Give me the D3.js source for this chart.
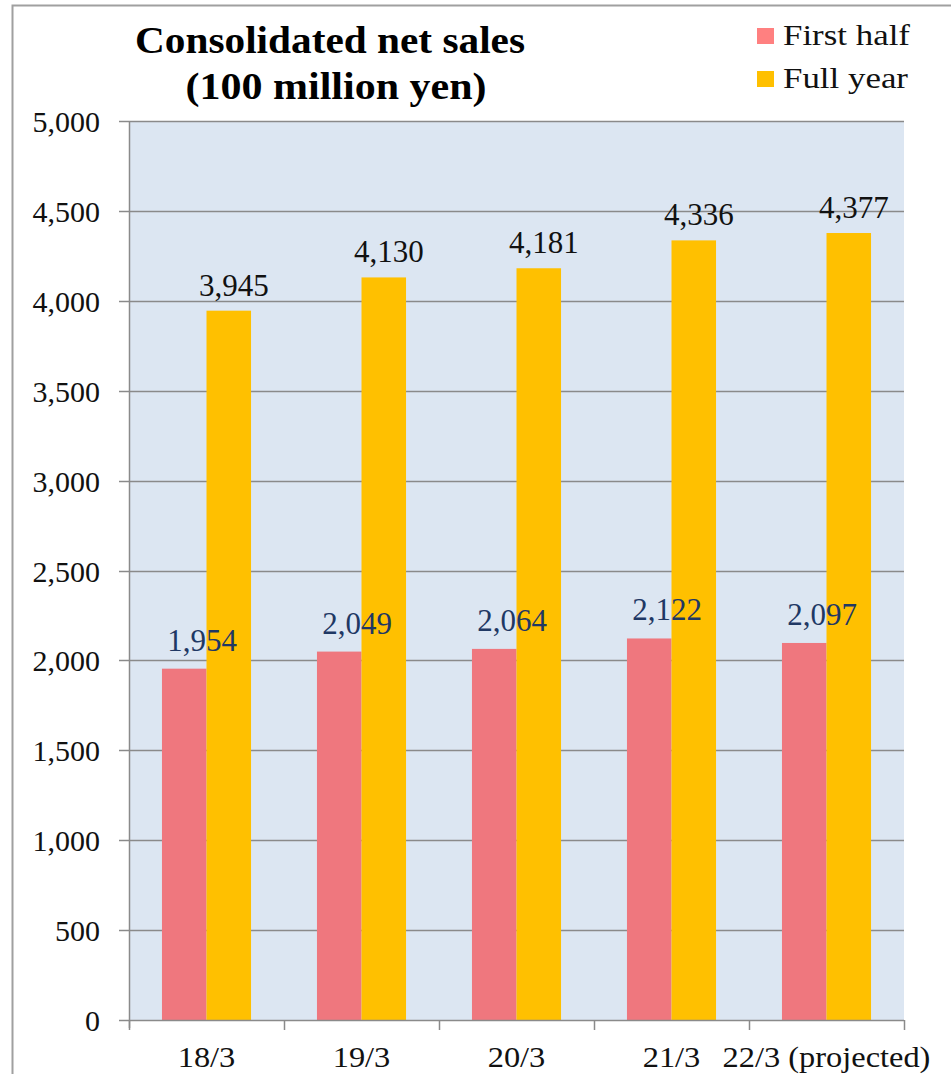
<!DOCTYPE html>
<html><head><meta charset="utf-8">
<script src="https://cdn.jsdelivr.net/npm/d3@7"></script>
<style>body{margin:0;background:#fff;}svg{display:block;}</style>
</head><body>
<svg id="c" width="951" height="1074"></svg>
<script>
const categories = ["18/3","19/3","20/3","21/3","22/3 (projected)"];
const firstHalf = [1954,2049,2064,2122,2097];
const fullYear = [3945,4130,4181,4336,4377];
const yTicks = [0,500,1000,1500,2000,2500,3000,3500,4000,4500,5000];
const seriesNames = ["First half","Full year"];
const titleLines = ["Consolidated net sales","(100 million yen)"];

const svg = d3.select("#c");
const font = "Liberation Serif, serif";
const m = {l:129, r:904, t:121, b:1020};

// outer border
svg.append("path").attr("d","M12.5,1074 V5.5 H951").attr("fill","none").attr("stroke","#a0a0a0").attr("stroke-width",2);

const x = d3.scaleBand().domain(categories).range([m.l,m.r]).paddingInner(0).paddingOuter(0);
const y = d3.scaleLinear().domain([0,5000]).range([m.b,m.t]);

svg.append("rect").attr("x",m.l).attr("y",m.t).attr("width",m.r-m.l).attr("height",m.b-m.t).attr("fill","#dce6f2");

// gridlines
svg.append("g").selectAll("line").data(yTicks.filter(d=>d>0)).join("line")
  .attr("x1",m.l-10).attr("x2",m.r).attr("y1",d=>Math.round(y(d))+0.5).attr("y2",d=>Math.round(y(d))+0.5)
  .attr("stroke","#8a8a8a").attr("stroke-width",1.5);

const sub = d3.scaleBand().domain(seriesNames).range([0,x.bandwidth()]).paddingInner(0).paddingOuter(0.74);
const colors = {"First half":"#ef777e","Full year":"#ffc000"};
const data = categories.map((c,i)=>({c, v:[firstHalf[i], fullYear[i]]}));

const g = svg.append("g");
data.forEach(d=>{
  seriesNames.forEach((s,j)=>{
    g.append("rect").attr("x",x(d.c)+sub(s)).attr("width",sub.bandwidth())
      .attr("y",y(d.v[j])).attr("height",y(0)-y(d.v[j])).attr("fill",colors[s]);
  });
});
// labels
data.forEach(d=>{
  seriesNames.forEach((s,j)=>{
    const cx = x(d.c)+sub(s)+sub.bandwidth()/2 + (j===0?18:5);
    g.append("text").attr("x",cx).attr("y",y(d.v[j])-(j===0?18:15))
      .attr("text-anchor","middle").attr("font-family",font).attr("font-size",31)
      .attr("fill",j===0?"#1f3864":"#111").text(d3.format(",")(d.v[j]));
  });
});

// axes
svg.append("line").attr("x1",m.l+0.5).attr("x2",m.l+0.5).attr("y1",m.t).attr("y2",m.b+8).attr("stroke","#8a8a8a").attr("stroke-width",1.5);
svg.append("line").attr("x1",m.l-10).attr("x2",m.r).attr("y1",m.b+0.5).attr("y2",m.b+0.5).attr("stroke","#8a8a8a").attr("stroke-width",1.5);
svg.append("g").selectAll("text").data(yTicks).join("text")
  .attr("x",100).attr("y",d=>y(d)+11).attr("text-anchor","end")
  .attr("font-family",font).attr("font-size",30).attr("fill","#111").text(d=>d3.format(",")(d));
const bounds = categories.map(c=>x(c)).concat([m.r]);
svg.append("g").selectAll("line").data(bounds).join("line")
  .attr("x1",d=>Math.round(d)+0.5).attr("x2",d=>Math.round(d)+0.5).attr("y1",m.b).attr("y2",m.b+10)
  .attr("stroke","#8a8a8a").attr("stroke-width",1.5);
svg.append("g").selectAll("text").data(categories).join("text")
  .attr("x",d=>x(d)+x.bandwidth()/2).attr("y",1067).attr("text-anchor","middle")
  .attr("font-family",font).attr("font-size",30).attr("fill","#111").text(d=>d)
  .each(function(){ const w=this.getComputedTextLength(); d3.select(this).attr("textLength",w*1.08).attr("lengthAdjust","spacingAndGlyphs"); });

// title
const titleW = [390, 301], titleX = [330, 336], titleY = [53, 99];
titleLines.forEach((s,i)=>{
  svg.append("text").attr("x",titleX[i]).attr("y",titleY[i]).attr("text-anchor","middle")
    .attr("font-family",font).attr("font-weight","bold").attr("font-size",38).attr("fill","#000")
    .attr("textLength",titleW[i]).attr("lengthAdjust","spacingAndGlyphs").text(s);
});

// legend
const legColors = ["#ff8080","#ffc000"];
const legW = [127, 125];
seriesNames.forEach((s,i)=>{
  const yy = 45 + i*43;
  svg.append("rect").attr("x",757).attr("y",yy-17).attr("width",17).attr("height",16).attr("fill",legColors[i]);
  svg.append("text").attr("x",783).attr("y",yy).attr("font-family",font).attr("font-size",29).attr("fill","#111")
    .attr("textLength",legW[i]).attr("lengthAdjust","spacingAndGlyphs").text(s);
});
</script>
</body></html>
